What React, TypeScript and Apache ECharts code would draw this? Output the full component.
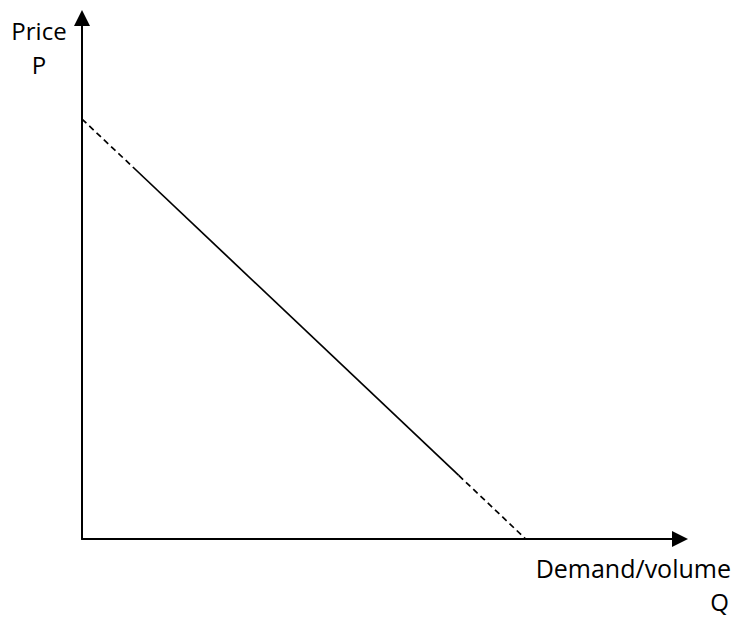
import React, { useEffect, useRef } from "react";
import * as echarts from "echarts";

// Demand curve (Q on x, P on y; axis range 0..100)
const startQ = [0, 8.5];
const startP = [80.6, 71.4];
const midQ = [8.5, 63];
const midP = [71.4, 12.2];
const endQ = [63, 74.2];
const endP = [12.2, 0];

const yName = ["Price", "P"];
const xName = ["Demand/volume", "Q"];

const pairs = (xs: number[], ys: number[]) => xs.map((x, i) => [x, ys[i]]);

export default function App() {
  const ref = useRef<HTMLDivElement>(null);
  useEffect(() => {
    if (!ref.current) return;
    const chart = echarts.init(ref.current, undefined, { renderer: "svg" });
    const font = "'Open Sans', sans-serif";
    const axisLine = {
      show: true,
      symbol: ["none", "triangle"],
      symbolSize: [16, 16],
      lineStyle: { color: "#000", width: 2 },
    };
    const lineSeries = (data: number[][], dashed: boolean) => ({
      type: "line",
      data,
      symbol: "none",
      silent: true,
      lineStyle: { color: "#000", width: 1.7, type: dashed ? [6, 4] : "solid" },
    });
    const label = (text: string, x: number, y: number, size: number, align: string) => ({
      type: "text",
      x,
      y,
      style: {
        text,
        font: `${size}px ${font}`,
        lineHeight: size,
        fill: "#000",
        textAlign: align,
        textVerticalAlign: "middle",
      },
    });
    chart.setOption({
      animation: false,
      backgroundColor: "#fff",
      grid: { left: 82, top: 18, right: 57, bottom: 79 },
      xAxis: {
        type: "value",
        min: 0,
        max: 100,
        axisLine,
        axisTick: { show: false },
        axisLabel: { show: false },
        splitLine: { show: false },
      },
      yAxis: {
        type: "value",
        min: 0,
        max: 100,
        axisLine,
        axisTick: { show: false },
        axisLabel: { show: false },
        splitLine: { show: false },
      },
      graphic: [
        label(yName[0], 39, 30, 24, "center"),
        label(yName[1], 39, 64, 24, "center"),
        label(xName[0], 731, 568, 25, "right"),
        label(xName[1], 729, 601.5, 24, "right"),
      ],
      series: [
        lineSeries(pairs(startQ, startP), true),
        lineSeries(pairs(midQ, midP), false),
        lineSeries(pairs(endQ, endP), true),
      ],
    });
    return () => chart.dispose();
  }, []);
  return (
    <div
      ref={ref}
      style={{ position: "fixed", left: 0, top: 0, width: 737, height: 618 }}
    />
  );
}
